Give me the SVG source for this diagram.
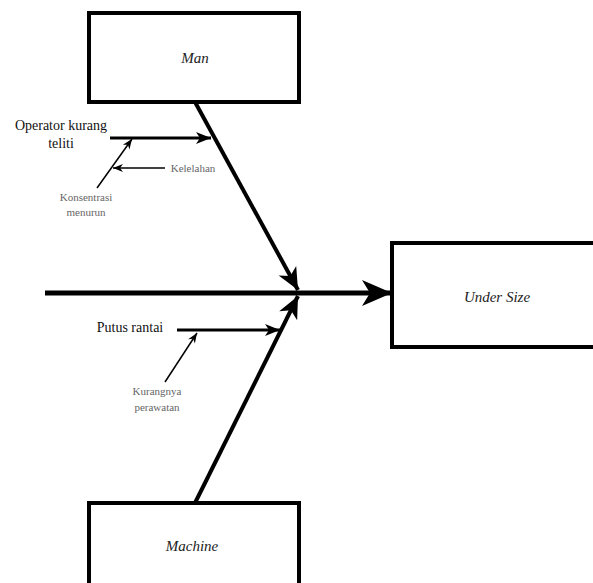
<svg xmlns="http://www.w3.org/2000/svg" width="593" height="583" viewBox="0 0 593 583">
<defs>
<style>
.box{fill:#fff;stroke:#000;stroke-width:4}
text{font-family:'Liberation Serif','DejaVu Serif','Times New Roman',serif}
.title{font-style:italic;font-size:15px;fill:#222;text-anchor:middle}
.cause{font-size:14px;fill:#111;text-anchor:middle}
.sub{font-size:11px;fill:#666;text-anchor:middle}
.thick{stroke:#000;fill:none}
</style>
<marker id="big" markerUnits="userSpaceOnUse" markerWidth="34" markerHeight="30" viewBox="-32 -15 34 30" refX="0" refY="0" orient="auto">
<path d="M0,0 L-30,-13 L-22,0 L-30,13 Z" fill="#000"/>
</marker>
<marker id="mid" markerUnits="userSpaceOnUse" markerWidth="26" markerHeight="24" viewBox="-24 -12 26 24" refX="0" refY="0" orient="auto">
<path d="M0,0 L-22,-10 L-16,0 L-22,10 Z" fill="#000"/>
</marker>
<marker id="small" markerUnits="userSpaceOnUse" markerWidth="18" markerHeight="14" viewBox="-16 -7 18 14" refX="0" refY="0" orient="auto">
<path d="M0,0 L-15,-6 L-11,0 L-15,6 Z" fill="#000"/>
</marker>
<marker id="tiny" markerUnits="userSpaceOnUse" markerWidth="12" markerHeight="10" viewBox="-11 -5 12 10" refX="0" refY="0" orient="auto">
<path d="M0,0 L-10,-4 L-7,0 L-10,4 Z" fill="#000"/>
</marker>
</defs>
<g id="connectors">
<line x1="45" y1="293" x2="392" y2="293" class="thick" stroke-width="5" marker-end="url(#big)"/>
<line x1="195" y1="102" x2="298" y2="290" class="thick" stroke-width="4" marker-end="url(#mid)"/>
<line x1="195" y1="503" x2="298" y2="296" class="thick" stroke-width="4" marker-end="url(#mid)"/>
<line x1="110" y1="138" x2="211" y2="138" class="thick" stroke-width="3" marker-end="url(#small)"/>
<line x1="177" y1="330" x2="280" y2="330" class="thick" stroke-width="3" marker-end="url(#small)"/>
<line x1="97" y1="188" x2="132" y2="139" class="thick" stroke-width="1.5" marker-end="url(#tiny)"/>
<line x1="165" y1="168" x2="113" y2="168" class="thick" stroke-width="1.5" marker-end="url(#tiny)"/>
<line x1="165" y1="382" x2="197" y2="333" class="thick" stroke-width="1.5" marker-end="url(#tiny)"/>
</g>
<g id="man">
<rect class="box" x="89" y="13" width="210" height="89"/>
<text class="title" x="195" y="63">Man</text>
</g>
<g id="machine">
<rect class="box" x="89" y="503" width="210" height="100"/>
<text class="title" x="192" y="551">Machine</text>
</g>
<g id="under-size">
<rect class="box" x="392" y="243" width="210" height="104"/>
<text class="title" x="497" y="302">Under Size</text>
</g>
<g id="operator">
<text class="cause" x="61" y="130">Operator kurang</text>
<text class="cause" x="61" y="148">teliti</text>
</g>
<g id="kelelahan">
<text class="sub" x="193" y="172">Kelelahan</text>
</g>
<g id="konsentrasi">
<text class="sub" x="86" y="201">Konsentrasi</text>
<text class="sub" x="86" y="216">menurun</text>
</g>
<g id="putus">
<text class="cause" x="130" y="332">Putus rantai</text>
</g>
<g id="kurangnya">
<text class="sub" x="157" y="395">Kurangnya</text>
<text class="sub" x="157" y="411">perawatan</text>
</g>
</svg>
